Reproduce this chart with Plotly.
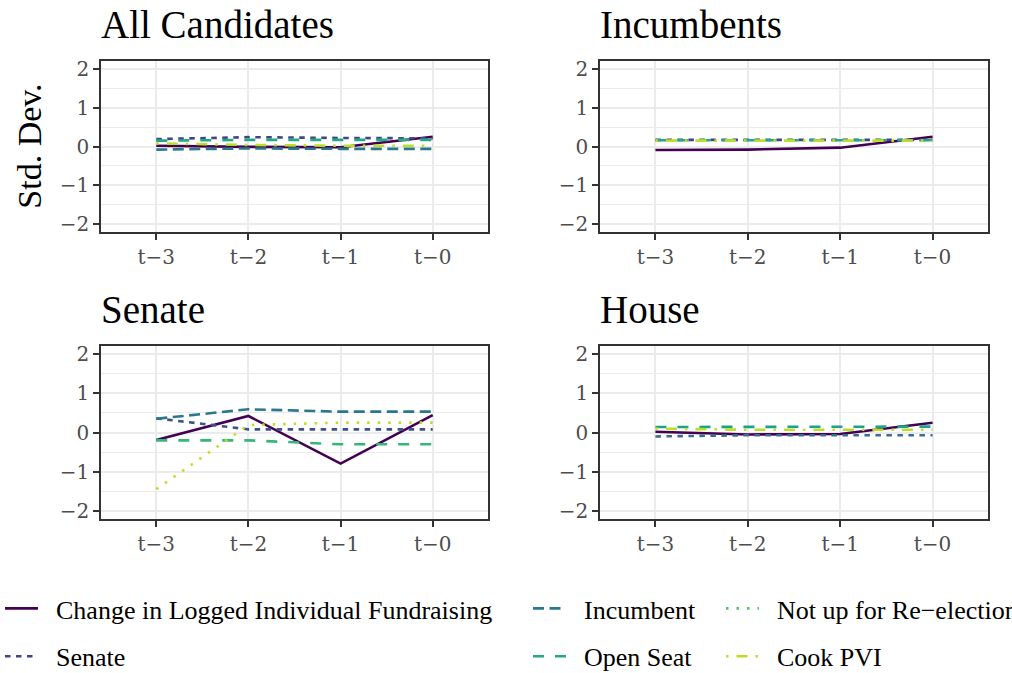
import plotly.graph_objects as go

W, H = 1012, 673

periods = ["t−3", "t−2", "t−1", "t−0"]
y_ticks = [-2, -1, 0, 1, 2]

series_names = [
    "Change in Logged Individual Fundraising",
    "Senate",
    "Incumbent",
    "Open Seat",
    "Not up for Re−election",
    "Cook PVI",
]

# --- All Candidates ---
all_change = [0.02, -0.01, -0.02, 0.25]
all_senate = [0.19, 0.24, 0.22, 0.21]
all_incumbent = [-0.08, -0.05, -0.06, -0.06]
all_open = [0.15, 0.17, 0.17, 0.17]
all_cook = [0.08, 0.04, 0.02, 0.02]

# --- Incumbents ---
inc_change = [-0.09, -0.08, -0.03, 0.25]
inc_senate = [0.17, 0.17, 0.17, 0.17]
inc_open = [0.16, 0.16, 0.16, 0.16]
inc_cook = [0.15, 0.15, 0.15, 0.15]

# --- Senate ---
sen_change = [-0.19, 0.42, -0.79, 0.44]
sen_senate = [0.36, 0.08, 0.08, 0.08]
sen_incumbent = [0.35, 0.59, 0.53, 0.53]
sen_open = [-0.20, -0.20, -0.30, -0.30]
sen_notup = [-1.44, 0.19, 0.25, 0.25]

# --- House ---
house_change = [0.02, -0.05, -0.04, 0.25]
house_senate = [-0.10, -0.07, -0.07, -0.07]
house_open = [0.14, 0.14, 0.14, 0.15]
house_cook = [0.10, 0.07, 0.07, 0.07]

panels = [
    ("All Candidates", {
        "Change in Logged Individual Fundraising": all_change,
        "Senate": all_senate,
        "Incumbent": all_incumbent,
        "Open Seat": all_open,
        "Cook PVI": all_cook,
    }),
    ("Incumbents", {
        "Change in Logged Individual Fundraising": inc_change,
        "Senate": inc_senate,
        "Open Seat": inc_open,
        "Cook PVI": inc_cook,
    }),
    ("Senate", {
        "Change in Logged Individual Fundraising": sen_change,
        "Senate": sen_senate,
        "Incumbent": sen_incumbent,
        "Open Seat": sen_open,
        "Not up for Re−election": sen_notup,
    }),
    ("House", {
        "Change in Logged Individual Fundraising": house_change,
        "Senate": house_senate,
        "Open Seat": house_open,
        "Cook PVI": house_cook,
    }),
]

# ---- styles ----
LW = 2.6
styles = {
    "Change in Logged Individual Fundraising": ("#440154", "solid"),
    "Senate": ("#414487", "5.5px,5.5px"),
    "Incumbent": ("#2A788E", "11px,5.5px"),
    "Open Seat": ("#22A884", "11px,11px"),
    "Not up for Re−election": ("#52C569", "2.5px,8px"),
    "Cook PVI": ("#BBDF27", "2.5px,8px,11px,8px"),
}
panel_color_override = {
    2: {"Not up for Re−election": "#BBDF27", "Open Seat": "#35B779", "Senate": "#3B528B"},
    3: {"Senate": "#3B6C98", "Open Seat": "#1FA187"},
}
legend_of = {
    "Change in Logged Individual Fundraising": "legend",
    "Senate": "legend",
    "Incumbent": "legend2",
    "Open Seat": "legend2",
    "Not up for Re−election": "legend3",
    "Cook PVI": "legend3",
}

# panel pixel boxes: (left, right, top, bottom)
boxes = [(101, 488, 61, 232), (600, 988, 61, 232), (101, 488, 346, 519), (600, 988, 346, 519)]

fig = go.Figure()
AX_FONT = dict(family="DejaVu Serif", size=20, color="#4D4D4D")

for i, (title, data) in enumerate(panels):
    n = i + 1
    xa = "x" if n == 1 else f"x{n}"
    ya = "y" if n == 1 else f"y{n}"
    for name, vals in data.items():
        color, dash = styles[name]
        color = panel_color_override.get(i, {}).get(name, color)
        fig.add_trace(go.Scatter(
            x=periods, y=vals, mode="lines", name=name,
            line=dict(color=color, width=LW, dash=dash),
            xaxis=xa, yaxis=ya, showlegend=False,
        ))
    l, r, t, b = boxes[i]
    xd = [l / W, r / W]
    yd = [1 - b / H, 1 - t / H]
    common = dict(
        showline=True, mirror=True, linecolor="#333333", linewidth=1.5,
        ticks="outside", ticklen=6, tickwidth=1.5, tickcolor="#333333",
        showgrid=True, gridcolor="#EBEBEB", gridwidth=1.6, zeroline=False,
        tickfont=AX_FONT, automargin=False,
    )
    fig.update_layout(**{
        ("xaxis" if n == 1 else f"xaxis{n}"): dict(
            domain=xd, anchor=ya, type="category", categoryorder="array",
            categoryarray=periods, range=[-0.6, 3.6], **common),
        ("yaxis" if n == 1 else f"yaxis{n}"): dict(
            domain=yd, anchor=xa, range=[-2.2, 2.2], tickvals=y_ticks,
            minor=dict(dtick=0.5, tick0=0, showgrid=True, gridcolor="#EBEBEB",
                       gridwidth=0.9, ticks=""),
            **common),
    })
    fig.add_annotation(
        text=title, xref="paper", yref="paper", x=(l - 2) / W, y=1 - (t - 13) / H,
        xanchor="left", yanchor="bottom", showarrow=False,
        font=dict(family="Liberation Serif", size=39, color="black"),
    )

# legend-only traces
PAD = "\u00a0\u00a0"
for name in series_names:
    color, dash = styles[name]
    fig.add_trace(go.Scatter(
        x=[None], y=[None], mode="lines", name=PAD + name,
        line=dict(color=color, width=LW, dash=dash),
        legend=legend_of[name], legendgroup=name, showlegend=True,
    ))

fig.add_annotation(
    text="Std. Dev.", xref="paper", yref="paper", x=30 / W, y=1 - 146.7 / H,
    xanchor="center", yanchor="middle", textangle=-90, showarrow=False,
    font=dict(family="Liberation Serif", size=34, color="black"),
)

leg_common = dict(
    orientation="v", xanchor="left", yanchor="top", bgcolor="rgba(0,0,0,0)",
    font=dict(family="Liberation Serif", size=26, color="black"),
    tracegroupgap=11, itemwidth=33, traceorder="grouped",
)
fig.update_layout(
    width=W, height=H,
    margin=dict(l=0, r=0, t=0, b=0, autoexpand=False),
    paper_bgcolor="white", plot_bgcolor="white",
    legend=dict(x=0 / W, y=1 - 585 / H, **leg_common),
    legend2=dict(x=528 / W, y=1 - 585 / H, **leg_common),
    legend3=dict(x=721 / W, y=1 - 585 / H, **leg_common),
)

fig.write_html("out.html")
